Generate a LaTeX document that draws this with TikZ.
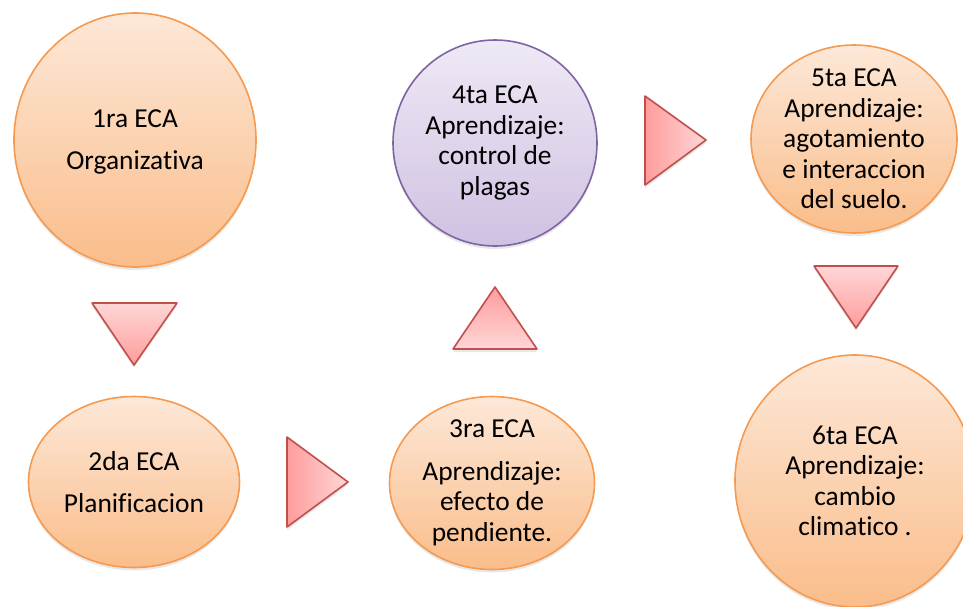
\documentclass[tikz,border=0pt]{standalone}
\usepackage{fontspec}
\setmainfont[Ligatures={NoCommon}]{Carlito}
\usepackage{tikz}
\usetikzlibrary{shapes.geometric,shadows}

\definecolor{ecaborde}{HTML}{F59A50}
\definecolor{ecaarriba}{HTML}{FDE8D8}
\definecolor{ecaabajo}{HTML}{FABD8A}
\definecolor{plagaborde}{HTML}{8064A2}
\definecolor{plagaarriba}{HTML}{EFE9F5}
\definecolor{plagaabajo}{HTML}{CFC1E2}
\definecolor{flechaborde}{HTML}{C0504D}
\definecolor{flechaoscuro}{HTML}{FF9C9C}
\definecolor{flechaclaro}{HTML}{FFD6D6}

\tikzset{
  eca/.style={ellipse,draw=ecaborde,line width=1.6pt,top color=ecaarriba,bottom color=ecaabajo,inner sep=0pt,
    drop shadow={shadow xshift=0pt,shadow yshift=-3pt,opacity=0.18}},
  ecalila/.style={eca,draw=plagaborde,top color=plagaarriba,bottom color=plagaabajo},
  rotulo/.style={align=center,inner sep=0pt,font=\fontsize{27.4}{30.5}\selectfont},
  flecha/.style={draw=flechaborde,line width=1.6pt,line join=round,
    drop shadow={shadow xshift=0pt,shadow yshift=-3pt,opacity=0.18}}
}

\begin{document}
\begin{tikzpicture}[x=1pt,y=-1pt]
\fill[white] (0,0) rectangle (963,606);
\useasboundingbox (0,0) rectangle (963,606);
\clip (0,0) rectangle (963,606);
\node[eca,minimum width=242pt,minimum height=254pt](e1)at(135,140){};
\node[rotulo](r1)at(135,142){1ra ECA\\[12pt]Organizativa};
\node[eca,minimum width=211pt,minimum height=171pt](e2)at(134,482){};
\node[rotulo](r2)at(e2){2da ECA\\[12pt]Planificacion};
\node[eca,minimum width=205pt,minimum height=173pt](e3)at(492,483){};
\node[rotulo](r3)at(e3){3ra ECA\\[12pt]Aprendizaje:\\efecto de\\pendiente.};
\node[ecalila,minimum width=204pt,minimum height=206pt](e4)at(495,143){};
\node[rotulo](r4)at(e4){4ta ECA\\Aprendizaje:\\control de\\plagas};
\node[eca,minimum width=206pt,minimum height=188pt](e5)at(854,139){};
\node[rotulo](r5)at(e5){5ta ECA\\Aprendizaje:\\agotamiento\\e interaccion\\del suelo.};
\node[eca,minimum width=240pt,minimum height=252pt](e6)at(855,481){};
\node[rotulo](r6)at(e6){6ta ECA\\Aprendizaje:\\cambio\\climatico .};
\path[flecha,bottom color=flechaoscuro,top color=flechaclaro] (92,303) -- (177,303) -- (134,365) -- cycle;
\path[flecha,left color=flechaoscuro,right color=flechaclaro] (287,437) -- (348,482) -- (287,527) -- cycle;
\path[flecha,top color=flechaoscuro,bottom color=flechaclaro] (453,349) -- (537,349) -- (495,287) -- cycle;
\path[flecha,left color=flechaoscuro,right color=flechaclaro] (645,96) -- (706,140) -- (645,185) -- cycle;
\path[flecha,bottom color=flechaoscuro,top color=flechaclaro] (814,266) -- (898,266) -- (856,328) -- cycle;
\end{tikzpicture}
\end{document}
